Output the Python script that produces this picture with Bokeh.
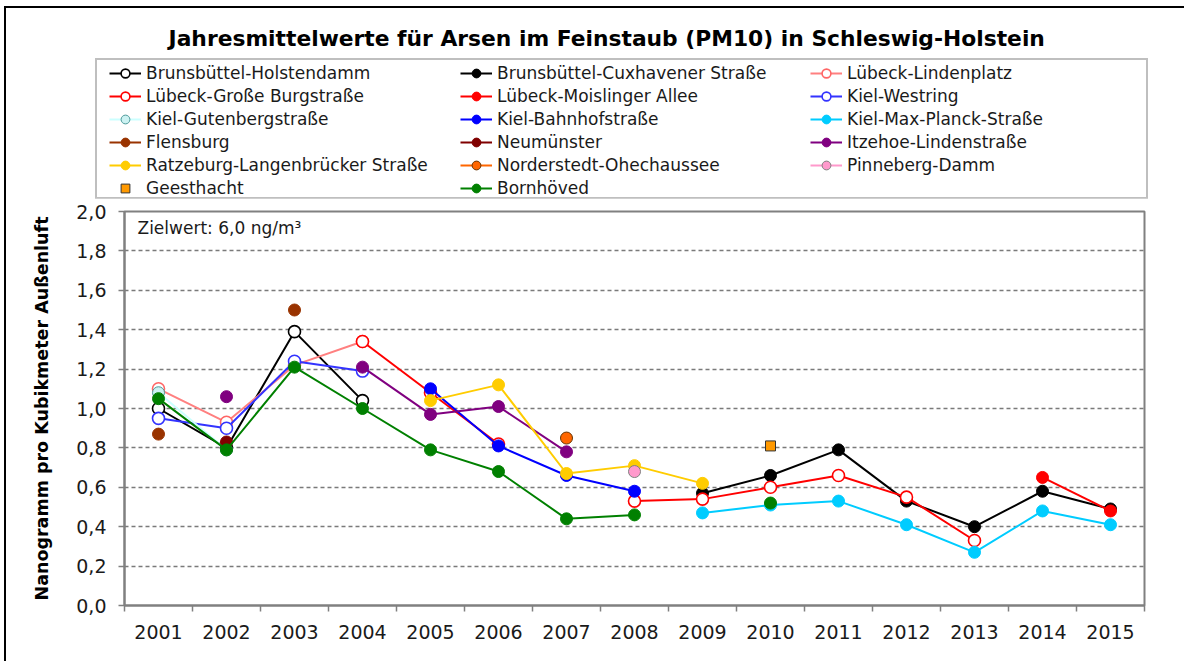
from bokeh.plotting import figure
from bokeh.models import Range1d, FixedTicker, CustomJSTickFormatter, Legend, LegendItem, Label
from bokeh.core.properties import value
from bokeh.embed import file_html
from bokeh.resources import INLINE

nan = float("nan")

# ---------------- data ----------------
years = [2001, 2002, 2003, 2004, 2005, 2006, 2007, 2008, 2009, 2010, 2011, 2012, 2013, 2014, 2015]
y_ticks = [0.0, 0.2, 0.4, 0.6, 0.8, 1.0, 1.2, 1.4, 1.6, 1.8, 2.0]
grid_ticks = [0.2, 0.4, 0.6, 0.8, 1.0, 1.2, 1.4, 1.6, 1.8]

names = [
    "Brunsbüttel-Holstendamm", "Brunsbüttel-Cuxhavener Straße", "Lübeck-Lindenplatz",
    "Lübeck-Große Burgstraße", "Lübeck-Moislinger Allee", "Kiel-Westring",
    "Kiel-Gutenbergstraße", "Kiel-Bahnhofstraße", "Kiel-Max-Planck-Straße",
    "Flensburg", "Neumünster", "Itzehoe-Lindenstraße",
    "Ratzeburg-Langenbrücker Straße", "Norderstedt-Ohechaussee", "Pinneberg-Damm",
    "Geesthacht", "Bornhöved",
]

holstendamm = [1.00, 0.80, 1.39, 1.04, nan, nan, nan, nan, nan, nan, nan, nan, nan, nan, nan]
cuxhavener  = [nan, nan, nan, nan, nan, nan, nan, nan, 0.57, 0.66, 0.79, 0.53, 0.40, 0.58, 0.49]
lindenplatz = [1.10, 0.93, 1.22, 1.34, nan, nan, nan, nan, nan, nan, nan, nan, nan, nan, nan]
grosse_burg = [nan, nan, nan, 1.34, 1.08, 0.82, nan, 0.53, 0.54, 0.60, 0.66, 0.55, 0.33, nan, nan]
moislinger  = [nan, nan, nan, nan, nan, nan, nan, nan, nan, nan, nan, nan, nan, 0.65, 0.48]
westring    = [0.95, 0.90, 1.24, 1.19, nan, nan, nan, nan, nan, nan, nan, nan, nan, nan, nan]
gutenberg   = [1.08, 0.79, nan, nan, nan, nan, nan, nan, nan, nan, nan, nan, nan, nan, nan]
bahnhof     = [nan, nan, nan, nan, 1.10, 0.81, 0.66, 0.58, nan, nan, nan, nan, nan, nan, nan]
max_planck  = [nan, nan, nan, nan, nan, nan, nan, nan, 0.47, 0.51, 0.53, 0.41, 0.27, 0.48, 0.41]
flensburg   = [0.87, nan, 1.50, nan, nan, nan, nan, nan, nan, nan, nan, nan, nan, nan, nan]
neumuenster = [nan, 0.83, nan, nan, nan, nan, nan, nan, nan, nan, nan, nan, nan, nan, nan]
itzehoe     = [nan, 1.06, nan, 1.21, 0.97, 1.01, 0.78, nan, nan, nan, nan, nan, nan, nan, nan]
ratzeburg   = [nan, nan, nan, nan, 1.04, 1.12, 0.67, 0.71, 0.62, nan, nan, nan, nan, nan, nan]
norderstedt = [nan, nan, nan, nan, nan, nan, 0.85, nan, nan, nan, nan, nan, nan, nan, nan]
pinneberg   = [nan, nan, nan, nan, nan, nan, nan, 0.68, nan, nan, nan, nan, nan, nan, nan]
geesthacht  = [nan, nan, nan, nan, nan, nan, nan, nan, nan, 0.81, nan, nan, nan, nan, nan]
bornhoeved  = [1.05, 0.79, 1.21, 1.00, 0.79, 0.68, 0.44, 0.46, nan, 0.52, nan, nan, nan, nan, nan]

values = [holstendamm, cuxhavener, lindenplatz, grosse_burg, moislinger, westring,
          gutenberg, bahnhof, max_planck, flensburg, neumuenster, itzehoe,
          ratzeburg, norderstedt, pinneberg, geesthacht, bornhoeved]

# ---------------- styles ----------------
# (line colour, marker, fill colour, edge colour)
styles = [
    ("#000000", "circle", "#FFFFFF", "#000000"),
    ("#000000", "circle", "#000000", "#000000"),
    ("#FF8080", "circle", "#FFFFFF", "#FF6666"),
    ("#FF0000", "circle", "#FFFFFF", "#FF0000"),
    ("#FF0000", "circle", "#FF0000", "#FF0000"),
    ("#3333FF", "circle", "#FFFFFF", "#3333FF"),
    ("#CCFFFF", "circle", "#CCF2F2", "#4D9999"),
    ("#0000FF", "circle", "#0000FF", "#0000FF"),
    ("#00CCFF", "circle", "#00CCFF", "#00CCFF"),
    ("#993300", "circle", "#993300", "#993300"),
    ("#800000", "circle", "#800000", "#800000"),
    ("#800080", "circle", "#800080", "#800080"),
    ("#FFCC00", "circle", "#FFCC00", "#FFCC00"),
    ("#FF6600", "circle", "#FF6600", "#663300"),
    ("#FF99CC", "circle", "#FF99CC", "#808080"),
    (None,      "square", "#FF9900", "#333333"),
    ("#008000", "circle", "#008000", "#008000"),
]

FONT = "DejaVu Sans"
W = 1180
HEAD_H = 192
MAIN_TOP = 13
MAIN_H = MAIN_TOP + 394 + 56

# ---------------- header (title + legend) ----------------
head = figure(width=W, height=HEAD_H, x_range=Range1d(0, 1), y_range=Range1d(0, 1),
              output_backend="svg", toolbar_location=None,
              x_axis_location=None, y_axis_location=None,
              min_border_left=0, min_border_right=0, min_border_top=0, min_border_bottom=0)
head.xgrid.visible = False
head.ygrid.visible = False
head.outline_line_color = None
head.background_fill_color = "#FFFFFF"
head.border_fill_color = "#FFFFFF"
head.styles = {"border-left": "2px solid #000000", "border-top": "2px solid #000000",
               "margin-left": "4px", "margin-top": "6px"}

# ---------------- main chart ----------------
p = figure(width=W, height=MAIN_H,
           x_range=Range1d(2000.5, 2015.5), y_range=Range1d(0, 2.0),
           output_backend="svg", toolbar_location=None,
           min_border_left=118, min_border_right=W - 1138,
           min_border_top=MAIN_TOP, min_border_bottom=56)
p.styles = {"border-left": "2px solid #000000", "margin-left": "4px"}
p.background_fill_color = "#FFFFFF"
p.border_fill_color = "#FFFFFF"
p.outline_line_color = "#808080"
p.outline_line_width = 2

p.xgrid.visible = False
p.ygrid.ticker = FixedTicker(ticks=grid_ticks)
p.ygrid.grid_line_color = "#7A7A7A"
p.ygrid.grid_line_width = 1.7
p.ygrid.grid_line_dash = "4 3"

minor_x = [y - 0.5 for y in years] + [years[-1] + 0.5]
p.xaxis.ticker = FixedTicker(ticks=years, minor_ticks=minor_x)
p.xaxis.formatter = CustomJSTickFormatter(code="return tick.toFixed(0);")
p.xaxis.major_tick_line_color = None
p.xaxis.major_tick_out = 0
p.xaxis.major_tick_in = 0
p.xaxis.minor_tick_out = 6
p.xaxis.minor_tick_in = 0
p.xaxis.minor_tick_line_color = "#808080"
p.xaxis.minor_tick_line_width = 1.5
p.xaxis.axis_line_color = "#808080"
p.xaxis.axis_line_width = 2
p.xaxis.major_label_standoff = 13
p.xaxis.major_label_text_font = FONT
p.xaxis.major_label_text_font_size = "19px"
p.xaxis.major_label_text_color = "#1A1A1A"

p.yaxis.ticker = FixedTicker(ticks=y_ticks)
p.yaxis.formatter = CustomJSTickFormatter(code="return tick.toFixed(1).replace('.', ',');")
p.yaxis.major_tick_out = 6
p.yaxis.major_tick_in = 0
p.yaxis.major_tick_line_color = "#808080"
p.yaxis.major_tick_line_width = 1.5
p.yaxis.minor_tick_line_color = None
p.yaxis.axis_line_color = "#808080"
p.yaxis.axis_line_width = 2
p.yaxis.major_label_standoff = 12
p.yaxis.major_label_text_font = FONT
p.yaxis.major_label_text_font_size = "19px"
p.yaxis.major_label_text_color = "#1A1A1A"
p.yaxis.axis_label = "Nanogramm pro Kubikmeter Außenluft"
p.yaxis.axis_label_text_font = FONT
p.yaxis.axis_label_text_font_style = "bold"
p.yaxis.axis_label_text_font_size = "17.5px"
p.yaxis.axis_label_text_color = "#000000"
p.yaxis.axis_label_standoff = 21

# series in main chart, with matching legend proxies in the header
legend_r = []
for name, vals, (lc, mk, fc, ec) in zip(names, values, styles):
    open_marker = fc == "#FFFFFF"
    size = 10 if mk == "square" else 12
    lw = 1.6 if open_marker else 1
    rs = []
    if lc is not None:
        p.line(years, vals, line_color=lc, line_width=2)
        rs.append(head.line(x=[-5, -4], y=[-5, -4], line_color=lc, line_width=2))
    p.scatter(years, vals, marker=mk, size=size, fill_color=fc, line_color=ec, line_width=lw)
    rs.append(head.scatter(x=[-5], y=[-5], marker=mk, size=size, fill_color=fc,
                           line_color=ec, line_width=lw))
    legend_r.append(rs)

# legend frame
dummy = head.scatter(x=[-5], y=[-5], size=1, fill_alpha=0, line_alpha=0)
box = Legend(items=[LegendItem(label=value(""), renderers=[dummy])],
             location=(89, HEAD_H - 191), orientation="vertical",
             padding=0, margin=0, spacing=0,
             glyph_width=1, glyph_height=137, label_width=1048, label_height=137,
             label_standoff=0,
             border_line_color="#808080", border_line_width=2,
             background_fill_color="#FFFFFF", background_fill_alpha=1.0)
head.add_layout(box)

cols = [[0, 3, 6, 9, 12, 15], [1, 4, 7, 10, 13, 16], [2, 5, 8, 11, 14]]
col_x = [103, 454, 804]
for idxs, cx in zip(cols, col_x):
    items = [LegendItem(label=value(names[i]), renderers=legend_r[i]) for i in idxs]
    n = len(idxs)
    h = n * 22 + (n - 1) * 1
    lg = Legend(items=items, location=(cx, HEAD_H - (54 + h)), orientation="vertical",
                padding=0, margin=0, spacing=1,
                glyph_width=32, glyph_height=22, label_height=22, label_width=10,
                label_standoff=5,
                label_text_font=FONT, label_text_font_size="17px",
                label_text_color="#1A1A1A",
                border_line_color=None, background_fill_alpha=0.0)
    head.add_layout(lg)

head.add_layout(Label(x=604, y=HEAD_H - 30, x_units="screen", y_units="screen",
                      text="Jahresmittelwerte  für Arsen im Feinstaub (PM10) in Schleswig-Holstein",
                      text_align="center", text_baseline="middle",
                      text_font=FONT, text_font_style="bold", text_font_size="21.8px",
                      text_color="#000000"))

p.add_layout(Label(x=13, y=378, x_units="screen", y_units="screen",
                   text="Zielwert:  6,0 ng/m³",
                   text_align="left", text_baseline="middle",
                   text_font=FONT, text_font_size="17px", text_color="#1A1A1A"))

open("out.html", "w").write(file_html([head, p], INLINE))
